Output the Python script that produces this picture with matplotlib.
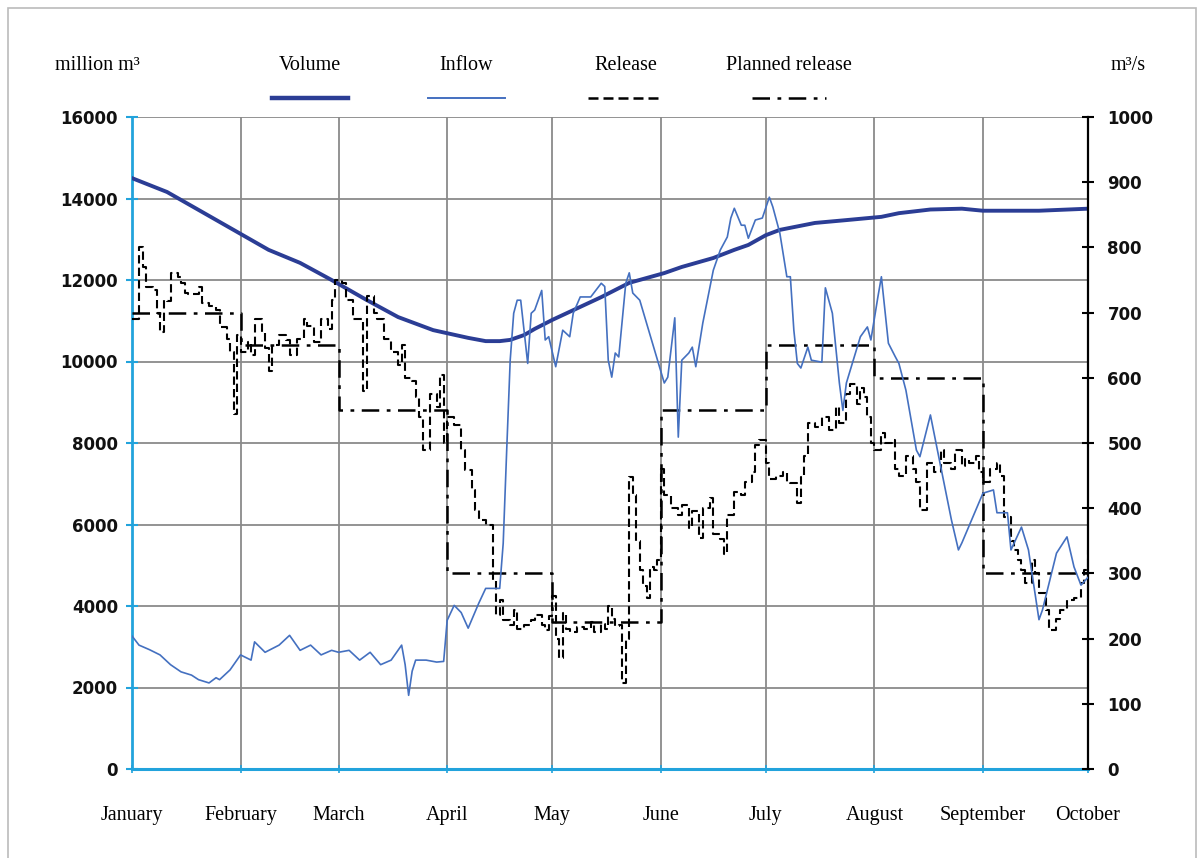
import numpy as np
import matplotlib
matplotlib.use("Agg")
import matplotlib.pyplot as plt
from matplotlib.lines import Line2D
from matplotlib.patches import Rectangle

# months (day of year for first day)
months = ["January", "February", "March", "April", "May", "June",
          "July", "August", "September", "October"]
month_start = [0, 31, 59, 90, 120, 151, 181, 212, 243, 273]

# reservoir volume, million m3 (left axis)
vol_day = [0, 10, 19, 29, 39, 48, 57, 67, 76, 86, 96, 101, 105, 108, 112,
           115, 120, 134, 142, 152, 157, 166, 172, 176, 181, 185, 195, 204,
           214, 219, 228, 237, 243, 259, 273]
volume = [14500, 14160, 13720, 13230, 12740, 12420, 12000, 11510, 11090,
          10770, 10580, 10500, 10500, 10530, 10650, 10800, 11020, 11580,
          11930, 12170, 12320, 12540, 12740, 12860, 13100, 13230, 13400,
          13470, 13550, 13640, 13730, 13750, 13700, 13700, 13750]

# inflow, m3/s (right axis): (day, value)
inflow_pts = [
    (0, 204), (2, 190), (5, 183), (8, 175), (11, 160), (14, 149), (17, 144),
    (19, 137), (22, 132), (24, 140), (25, 137), (28, 152), (31, 175),
    (34, 167), (35, 195), (38, 179), (42, 190), (45, 205), (48, 182),
    (51, 190), (54, 175), (57, 182), (59, 179), (62, 182), (65, 167),
    (68, 179), (71, 160), (74, 167), (77, 190), (78, 160), (79, 113),
    (80, 150), (81, 167), (84, 167), (87, 164), (89, 165), (90, 228),
    (92, 251), (94, 240), (96, 216), (99, 254), (101, 277), (105, 277),
    (106, 346), (107, 489), (108, 627), (109, 699), (110, 719), (111, 719),
    (113, 622), (114, 699), (115, 704), (117, 734), (118, 658), (119, 663),
    (121, 617), (123, 673), (125, 663), (126, 699), (128, 724), (131, 724),
    (134, 745), (135, 740), (136, 627), (137, 601), (138, 638), (139, 632),
    (141, 745), (142, 761), (143, 730), (145, 719), (152, 592), (153, 601),
    (155, 692), (156, 509), (157, 627), (159, 638), (160, 647), (161, 617),
    (163, 684), (166, 765), (168, 796), (170, 816), (171, 845), (172, 860),
    (174, 834), (175, 834), (176, 814), (178, 842), (180, 845), (182, 877),
    (183, 862), (185, 822), (187, 755), (188, 755), (189, 673), (190, 622),
    (191, 615), (193, 647), (194, 627), (197, 624), (198, 738), (200, 699),
    (202, 592), (203, 550), (204, 592), (208, 663), (210, 678), (211, 658),
    (213, 724), (214, 755), (215, 704), (216, 653), (218, 632), (219, 622),
    (221, 581), (224, 489), (225, 479), (228, 543), (230, 489), (234, 382),
    (236, 336), (237, 347), (243, 423), (246, 428), (247, 393), (250, 393),
    (251, 336), (254, 371), (256, 336), (259, 229), (260, 244), (264, 331),
    (267, 356), (269, 310), (271, 282), (273, 294)]

# actual release, m3/s (right axis): (day, value)
release_pts = [
    (0, 690), (2, 800), (3, 770), (4, 740), (6, 735), (7, 700), (8, 670),
    (9, 720), (10, 718), (11, 760), (13, 755), (14, 745), (15, 730),
    (16, 728), (19, 739), (20, 715), (22, 710), (24, 704), (25, 678),
    (27, 660), (28, 640), (29, 545), (30, 665), (31, 640), (33, 655),
    (34, 635), (35, 690), (37, 670), (38, 645), (39, 610), (40, 650),
    (42, 665), (44, 658), (45, 635), (47, 660), (49, 690), (50, 680),
    (52, 655), (54, 690), (56, 675), (57, 720), (58, 750), (60, 745),
    (61, 720), (63, 690), (66, 580), (67, 725), (69, 700), (70, 690),
    (72, 660), (74, 640), (76, 620), (77, 650), (78, 600), (80, 595),
    (81, 570), (82, 540), (83, 490), (85, 575), (87, 555), (88, 605),
    (89, 500), (90, 540), (92, 528), (94, 489), (95, 459), (97, 428),
    (98, 397), (99, 382), (101, 374), (103, 290), (104, 236), (105, 259),
    (106, 228), (108, 221), (109, 244), (110, 215), (112, 221), (114, 228),
    (115, 236), (117, 221), (118, 213), (119, 235), (120, 265), (121, 200),
    (122, 170), (123, 240), (124, 215), (125, 210), (127, 218), (129, 215),
    (131, 225), (132, 210), (134, 222), (135, 215), (136, 250), (137, 230),
    (138, 220), (139, 221), (140, 132), (141, 200), (142, 448), (143, 420),
    (144, 350), (145, 305), (146, 280), (147, 262), (148, 310), (149, 305),
    (150, 320), (151, 460), (152, 420), (154, 400), (156, 390), (157, 405),
    (159, 370), (160, 395), (162, 355), (163, 400), (165, 415), (166, 360),
    (168, 352), (169, 330), (170, 390), (172, 425), (174, 420), (175, 440),
    (177, 455), (178, 497), (179, 505), (181, 470), (182, 445), (184, 450),
    (186, 455), (187, 440), (188, 438), (190, 408), (191, 448), (192, 480),
    (193, 530), (195, 525), (197, 540), (199, 520), (201, 555), (202, 530),
    (204, 575), (205, 590), (207, 560), (208, 585), (209, 570), (210, 540),
    (211, 500), (212, 490), (214, 515), (215, 500), (217, 505), (218, 460),
    (219, 450), (221, 480), (223, 460), (224, 440), (225, 397), (227, 470),
    (229, 455), (231, 490), (232, 470), (234, 460), (235, 490), (237, 465),
    (238, 475), (239, 470), (241, 480), (242, 455), (243, 440), (245, 460),
    (247, 470), (248, 450), (249, 387), (251, 350), (252, 336), (253, 320),
    (254, 305), (255, 285), (257, 320), (258, 300), (259, 270), (261, 244),
    (262, 213), (264, 230), (265, 244), (267, 259), (268, 259), (269, 262),
    (271, 285), (272, 305), (273, 336)]

# planned release, m3/s (monthly steps)
plan_day = month_start
planned = [700, 650, 550, 300, 225, 550, 650, 600, 300, 300]

inflow_day, inflow = zip(*inflow_pts)
rel_day, release = zip(*release_pts)

W, H = 1204, 858
fig = plt.figure(figsize=(W / 100, H / 100), dpi=100)
ax = fig.add_axes([132 / W, 1 - 769 / H, (1088 - 132) / W, (769 - 117) / H])
ax2 = ax.twinx()

grid_c = "#8a8a8a"
left_c = "#22a3dc"

ax.set_xlim(0, 273)
ax.set_ylim(0, 16000)
ax2.set_ylim(0, 1000)

ax.set_yticks(np.arange(0, 16001, 2000))
ax2.set_yticks(np.arange(0, 1001, 100))
ax.set_xticks(month_start)
ax.set_xticklabels(months, fontsize=14.5, family="Liberation Serif",
                   va="baseline")
ax.grid(True, color=grid_c, lw=1.3)
ax.set_axisbelow(True)

ax.plot(vol_day, volume, color="#2b3d95", lw=2.8, zorder=3)
ax2.plot(inflow_day, inflow, color="#4470c0", lw=1.2, zorder=3)
ax2.plot(rel_day, release, color="black", lw=1.5, ls=(0, (4, 2)),
         drawstyle="steps-post", zorder=2)
ax2.plot(plan_day, planned, color="black", lw=1.8, ls=(0, (7, 3, 1.5, 3)),
         drawstyle="steps-post", zorder=2)

for a in (ax, ax2):
    a.spines["top"].set_visible(False)
ax.spines["right"].set_visible(False)
ax2.spines["left"].set_visible(False)
ax2.spines["bottom"].set_visible(False)
ax.spines["left"].set_color(left_c)
ax.spines["left"].set_linewidth(2)
ax.spines["bottom"].set_color(left_c)
ax.spines["bottom"].set_linewidth(2.2)
ax2.spines["right"].set_color("black")
ax2.spines["right"].set_linewidth(1.6)

ax.tick_params(axis="y", direction="inout", length=8, color=left_c,
               width=1.5, pad=6, labelsize=12)
ax.tick_params(axis="x", direction="inout", length=6, color=left_c,
               width=1.2, pad=34)
ax2.tick_params(axis="y", direction="inout", length=8, color="black",
                width=1.5, pad=10, labelsize=12)
for lab in ax.get_yticklabels() + ax2.get_yticklabels():
    lab.set_fontweight("bold")
    lab.set_color("#111111")

# header: units and legend
serif = "Liberation Serif"
fig.text(55 / W, 1 - 65 / H, "million m³", fontsize=14.5, family=serif,
         va="center", ha="left")
fig.text(1146 / W, 1 - 65 / H, "m³/s", fontsize=14.5, family=serif,
         va="center", ha="right")

leg = [("Volume", 272, 348, dict(color="#2b3d95", lw=3.2)),
       ("Inflow", 428, 505, dict(color="#4470c0", lw=1.4)),
       ("Release", 588, 663, dict(color="black", lw=1.8, ls=(0, (4, 2)))),
       ("Planned release", 752, 826,
        dict(color="black", lw=1.8, ls=(0, (7, 3, 1.5, 3))))]
for name, x0, x1, st in leg:
    fig.text((x0 + x1) / 2 / W, 1 - 65 / H, name, fontsize=14.5, family=serif,
             va="center", ha="center")
    fig.add_artist(Line2D([x0 / W, x1 / W], [1 - 98 / H, 1 - 98 / H], **st))

fig.add_artist(Rectangle((8 / W, -0.01), 1188 / W, 1 - 8 / H + 0.01,
                         fill=False, edgecolor="#bbbbbb", lw=1.2))

fig.savefig("out.png", dpi=100)
